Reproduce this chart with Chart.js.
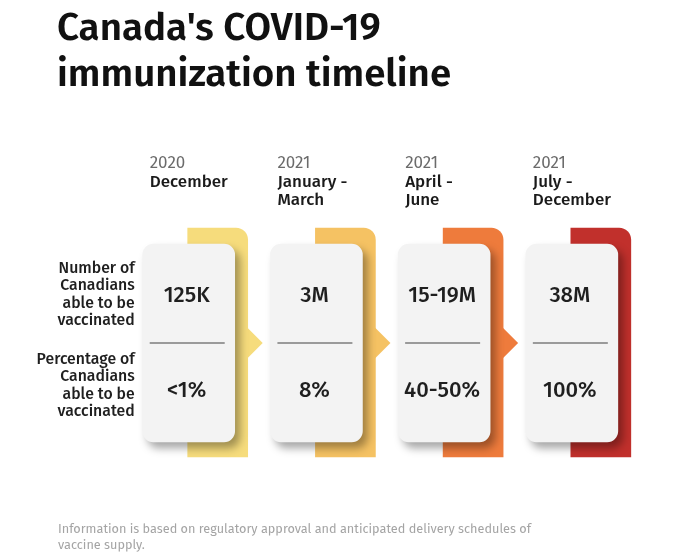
<!DOCTYPE html>
<html>
<head>
<meta charset="utf-8">
<title>Canada's COVID-19 immunization timeline</title>
<script src="https://cdn.jsdelivr.net/npm/chart.js@4.4.0/dist/chart.umd.min.js"></script>
<style>
  html, body { margin: 0; padding: 0; background: #ffffff; }
  canvas { display: block; }
</style>
</head>
<body>
<canvas id="timelineChart" width="680" height="555"></canvas>
<script>
// Timeline data, one entry per phase
var years = ["2020", "2021", "2021", "2021"];
var periods = [["December"], ["January -", "March"], ["April -", "June"], ["July -", "December"]];
var peopleVaccinated = ["125K", "3M", "15-19M", "38M"];
var shareVaccinated = ["<1%", "8%", "40-50%", "100%"];
var rowLabels = [
  ["Number of", "Canadians", "able to be", "vaccinated"],
  ["Percentage of", "Canadians", "able to be", "vaccinated"]
];
var titleLines = ["Canada's COVID-19", "immunization timeline"];
var noteLines = [
  "Information is based on regulatory approval and anticipated delivery schedules of",
  "vaccine supply."
];

var FONT = "'Fira Sans', 'Noto Sans', sans-serif";
var phaseColors = ["#f6dc7c", "#f5c263", "#ee7b3c", "#c1302c"];
var BACK_SHIFT = 0.227;   // coloured tab sits a bit right of its card
var CARD_SPAN = [0.066, 0.93];
var TAB_SPAN = [0, 1];

var cardData = years.map(function(y, i) { return { x: i + 1, y: CARD_SPAN }; });
var tabData = years.map(function(y, i) { return { x: i + 1 + BACK_SHIFT, y: TAB_SPAN }; });

// draws the card shadows, arrows and all the text
var timelinePlugin = {
  id: "timeline",
  beforeDatasetDraw: function(chart, args) {
    if (args.index === 0) {
      var ctx = chart.ctx;
      ctx.save();
      ctx.shadowColor = "rgba(0, 0, 0, 0.35)";
      ctx.shadowBlur = 9;
      ctx.shadowOffsetX = 5;
      ctx.shadowOffsetY = 6;
    }
  },
  afterDatasetDraw: function(chart, args) {
    if (args.index === 0) {
      chart.ctx.restore();
    }
  },
  beforeDatasetsDraw: function(chart) {
    var ctx = chart.ctx;
    var cards = chart.getDatasetMeta(0).data;
    var tabs = chart.getDatasetMeta(1).data;
    // arrows between phases
    tabs.forEach(function(tab, i) {
      if (i === tabs.length - 1) return;
      var card = cards[i];
      var mid = (card.y + card.base) / 2;
      var edge = tab.x + tab.width / 2;
      ctx.save();
      ctx.fillStyle = phaseColors[i];
      ctx.beginPath();
      ctx.moveTo(edge - 1, mid - 16);
      ctx.lineTo(edge + 15, mid);
      ctx.lineTo(edge - 1, mid + 16);
      ctx.closePath();
      ctx.fill();
      ctx.restore();
    });
  },
  afterDatasetsDraw: function(chart) {
    var ctx = chart.ctx;
    var cards = chart.getDatasetMeta(0).data;
    ctx.save();
    ctx.textBaseline = "alphabetic";

    cards.forEach(function(card, i) {
      var top = Math.min(card.y, card.base);
      var bottom = Math.max(card.y, card.base);
      var mid = (top + bottom) / 2;
      var left = card.x - card.width / 2;
      var right = card.x + card.width / 2;

      // column header
      ctx.textAlign = "left";
      ctx.fillStyle = "#6b6b6b";
      ctx.font = "400 17px " + FONT;
      ctx.fillText(years[i], left + 7, top - 76);
      ctx.fillStyle = "#1a1a1a";
      ctx.font = "500 17px " + FONT;
      periods[i].forEach(function(line, k) {
        ctx.fillText(line, left + 7, top - 57 + k * 17.5);
      });

      // divider
      ctx.strokeStyle = "#9a9a9a";
      ctx.lineWidth = 2;
      ctx.beginPath();
      ctx.moveTo(left + 7, mid);
      ctx.lineTo(right - 10, mid);
      ctx.stroke();

      // values
      ctx.textAlign = "center";
      ctx.fillStyle = "#1f1f1f";
      ctx.font = "500 22px " + FONT;
      ctx.fillText(peopleVaccinated[i], card.x - 2, mid - 41);
      ctx.fillText(shareVaccinated[i], card.x - 2, mid + 54);
    });

    // row labels, right aligned against the first card
    var first = cards[0];
    var firstMid = (first.y + first.base) / 2;
    var labelRight = first.x - first.width / 2 - 8;
    ctx.textAlign = "right";
    ctx.fillStyle = "#1f1f1f";
    ctx.font = "500 15.8px " + FONT;
    rowLabels[0].forEach(function(line, k) {
      ctx.fillText(line, labelRight, firstMid - 70 + k * 17.5);
    });
    rowLabels[1].forEach(function(line, k) {
      ctx.fillText(line, labelRight, firstMid + 21 + k * 17.5);
    });

    // title
    ctx.textAlign = "left";
    ctx.fillStyle = "#111111";
    ctx.font = "600 38.5px " + FONT;
    titleLines.forEach(function(line, k) {
      ctx.fillText(line, 57, 40 + k * 46);
    });

    // footnote
    ctx.fillStyle = "#a4a4a4";
    ctx.font = "400 12.7px " + FONT;
    noteLines.forEach(function(line, k) {
      ctx.fillText(line, 58, 533 + k * 16);
    });

    ctx.restore();
  }
};

window.onload = function() {
  var ctx = document.getElementById("timelineChart").getContext("2d");

  var timelineChart = new Chart(ctx, {
    type: "bar",
    data: {
      datasets: [{
        label: "Cards",
        data: cardData,
        backgroundColor: "#f3f3f3",
        borderSkipped: false,
        borderRadius: 11,
        barThickness: 92,
        grouped: false,
        clip: false
      }, {
        label: "Phase tabs",
        data: tabData,
        backgroundColor: phaseColors,
        borderSkipped: false,
        borderRadius: { topLeft: 0, topRight: 12, bottomLeft: 0, bottomRight: 0 },
        barThickness: 60,
        grouped: false,
        clip: false
      }]
    },
    options: {
      responsive: false,
      animation: false,
      layout: {
        padding: { left: 61, right: 6, top: 228, bottom: 98 }
      },
      scales: {
        x: { type: "linear", display: false, min: 0, max: 4.8, offset: false },
        y: { display: false, min: 0, max: 1 }
      },
      plugins: {
        legend: { display: false },
        tooltip: { enabled: false }
      }
    },
    plugins: [timelinePlugin]
  });
};
</script>
</body>
</html>
